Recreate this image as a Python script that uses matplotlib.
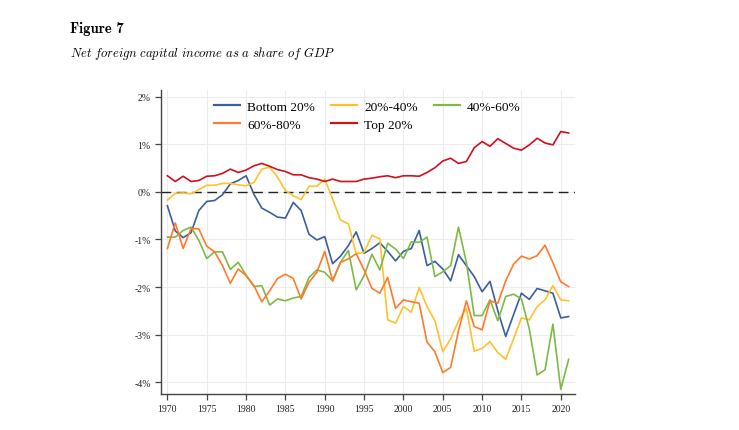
import matplotlib
matplotlib.use("Agg")
import matplotlib.pyplot as plt
import numpy as np

years = list(range(1970, 2022))

bottom20 = [-0.29, -0.82, -0.96, -0.86, -0.39, -0.20, -0.18, -0.06, 0.17, 0.24,
            0.34, -0.05, -0.34, -0.43, -0.53, -0.55, -0.22, -0.39, -0.89, -1.01,
            -0.94, -1.51, -1.35, -1.13, -0.84, -1.29, -1.19, -1.07, -1.25, -1.45,
            -1.25, -1.19, -0.81, -1.55, -1.46, -1.62, -1.87, -1.32, -1.55, -1.78,
            -2.10, -1.88, -2.50, -3.04, -2.58, -2.13, -2.26, -2.03, -2.08, -2.13,
            -2.65, -2.62]
q20_40 = [-0.17, -0.03, -0.02, -0.04, 0.05, 0.14, 0.14, 0.18, 0.18, 0.15,
          0.13, 0.20, 0.48, 0.52, 0.31, 0.03, -0.08, -0.16, 0.12, 0.12,
          0.27, -0.15, -0.59, -0.67, -1.30, -1.27, -0.91, -0.99, -2.69, -2.76,
          -2.41, -2.53, -2.01, -2.41, -2.71, -3.36, -3.09, -2.71, -2.45, -3.35,
          -3.29, -3.15, -3.38, -3.52, -3.09, -2.65, -2.69, -2.41, -2.27, -1.97,
          -2.27, -2.29]
q40_60 = [-0.95, -0.95, -0.81, -0.74, -1.02, -1.40, -1.26, -1.26, -1.63, -1.48,
          -1.75, -1.99, -1.97, -2.38, -2.25, -2.29, -2.23, -2.20, -1.80, -1.64,
          -1.69, -1.87, -1.48, -1.23, -2.06, -1.76, -1.31, -1.64, -1.08, -1.20,
          -1.40, -1.05, -1.06, -0.95, -1.78, -1.68, -1.55, -0.74, -1.48, -2.60,
          -2.60, -2.27, -2.71, -2.20, -2.15, -2.25, -2.88, -3.85, -3.74, -2.78,
          -4.15, -3.52]
q60_80 = [-1.19, -0.65, -1.19, -0.77, -0.78, -1.14, -1.26, -1.55, -1.92, -1.62,
          -1.76, -1.97, -2.31, -2.08, -1.82, -1.73, -1.82, -2.25, -1.90, -1.69,
          -1.25, -1.87, -1.48, -1.41, -1.30, -1.64, -2.03, -2.13, -1.80, -2.45,
          -2.27, -2.31, -2.34, -3.16, -3.36, -3.80, -3.69, -2.92, -2.29, -2.83,
          -2.90, -2.29, -2.34, -1.87, -1.52, -1.35, -1.41, -1.34, -1.12, -1.49,
          -1.89, -1.99]
top20 = [0.34, 0.22, 0.33, 0.22, 0.24, 0.33, 0.34, 0.39, 0.48, 0.41,
         0.46, 0.55, 0.60, 0.54, 0.47, 0.43, 0.36, 0.36, 0.30, 0.27,
         0.22, 0.27, 0.22, 0.22, 0.22, 0.27, 0.29, 0.32, 0.34, 0.30,
         0.34, 0.34, 0.33, 0.41, 0.51, 0.65, 0.71, 0.60, 0.64, 0.93,
         1.06, 0.96, 1.12, 1.02, 0.92, 0.88, 0.99, 1.13, 1.03, 0.99,
         1.27, 1.24]

series = [("Bottom 20%", bottom20, "#3b5e9d"),
          ("20%-40%", q20_40, "#ffc12e"),
          ("40%-60%", q40_60, "#7cba44"),
          ("60%-80%", q60_80, "#ff7a2a"),
          ("Top 20%", top20, "#d0101e")]

xticks = list(range(1970, 2021, 5))
yticks = [2, 1, 0, -1, -2, -3, -4]

serif = ["Liberation Serif", "DejaVu Serif"]
plt.rcParams["mathtext.fontset"] = "cm"

fig = plt.figure(figsize=(7.39, 4.31), dpi=100)
ax = fig.add_axes([0.218, 0.0835, 0.56, 0.706])

fig.text(70 / 739, 1 - 29 / 431, "Figure 7", family="cmb10", fontsize=10.5,
         va="center", ha="left")
fig.text(70 / 739, 1 - 53 / 431,
         r"$\mathit{Net\ foreign\ capital\ income\ as\ a\ share\ of\ GDP}$",
         fontsize=9.1, va="center", ha="left")

lines = {}
for label, vals, color in series:
    lines[label], = ax.plot(years, vals, color=color, lw=1.2, label=label)

ax.axhline(0, color="#222222", lw=1.0, dashes=(7, 4), zorder=1)

ax.set_xlim(1969.2, 2021.8)
ax.set_ylim(-4.25, 2.15)
ax.set_xticks(xticks)
ax.set_yticks(yticks)
ax.set_yticklabels([f"{t}%" for t in yticks])
ax.grid(True, color="#ececec", lw=0.8)
ax.set_axisbelow(True)

for s in ["top", "right"]:
    ax.spines[s].set_visible(False)
for s in ["left", "bottom"]:
    ax.spines[s].set_color("#444444")
    ax.spines[s].set_linewidth(1.0)

ax.tick_params(axis="both", color="#444444", length=4, width=0.9)
for lab in ax.get_xticklabels() + ax.get_yticklabels():
    lab.set_family(serif)
    lab.set_fontsize(7)
    lab.set_color("#222222")

# legend fills by column, so reorder to read row by row
order = ["Bottom 20%", "60%-80%", "20%-40%", "Top 20%", "40%-60%"]
leg = ax.legend([lines[k] for k in order], order,
                loc="upper left", bbox_to_anchor=(0.098, 1.005), ncol=3,
                frameon=False, prop={"family": serif, "size": 9.6},
                handlelength=1.95, handletextpad=0.55, columnspacing=1.2,
                labelspacing=0.45)
for h in leg.get_lines():
    h.set_linewidth(1.6)

fig.savefig("out.png", dpi=100)
